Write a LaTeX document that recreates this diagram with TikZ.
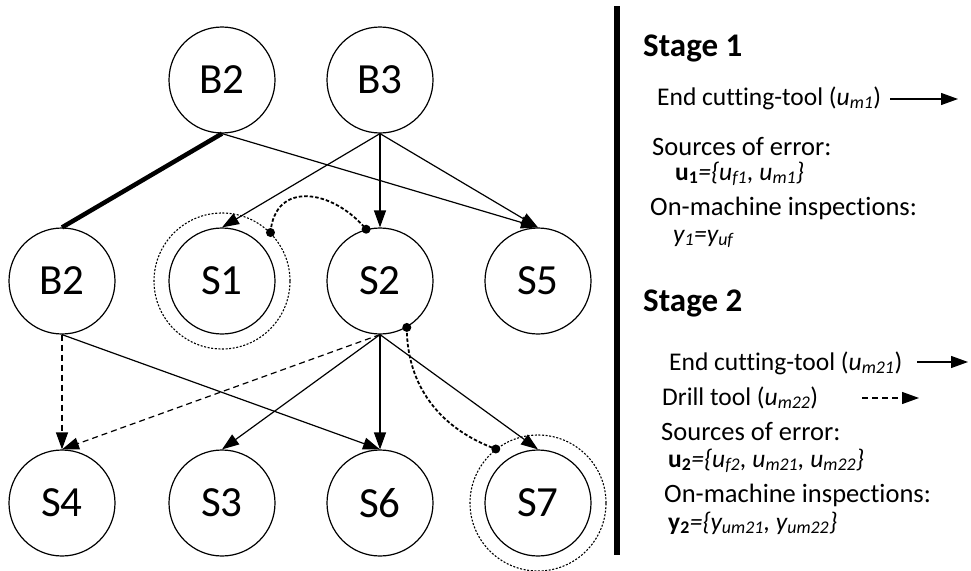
\documentclass[tikz,border=0pt]{standalone}
\usepackage{fontspec}
\setmainfont{Carlito}[Ligatures=CommonOff]
\usetikzlibrary{arrows.meta}

\newcommand\fs[1]{\fontsize{#1}{#1}\selectfont}

\tikzset{
  state/.style={circle, draw, line width=1.2pt, minimum size=106pt, inner sep=0pt, font=\fs{43}},
  ring/.style={circle, draw, line width=1.1pt, dash pattern=on 2pt off 1.6pt, minimum size=136pt, inner sep=0pt},
  tip/.style={-{Triangle[length=17pt,width=12pt]}},
  edge/.style={line width=1.2pt, tip},
  dedge/.style={line width=1.2pt, tip, dash pattern=on 6pt off 4pt},
  link/.style={line width=1.8pt, dash pattern=on 3.5pt off 2pt},
  dot/.style={circle, fill, inner sep=0pt, minimum size=9pt},
  txt/.style={anchor=base west, inner sep=0pt, font=\fs{25.5}},
  big/.style={anchor=base west, inner sep=0pt, font=\fs{26.5}},
  head/.style={anchor=base west, inner sep=0pt, font=\fs{33}\bfseries},
}

\begin{document}
\begin{tikzpicture}[x=1pt, y=-1pt]
\useasboundingbox (0,0) rectangle (971,570);

% states
\node[state] (B2t) at (222,80) {B2};
\node[state] (B3)  at (380,80) {B3};
\node[state] (B2)  at (62,281) {B2};
\node[state] (S1)  at (222,281) {S1};
\node[state] (S2)  at (380,281) {S2};
\node[state] (S5)  at (538,281) {S5};
\node[state] (S4)  at (62,503) {S4};
\node[state] (S3)  at (222,503) {S3};
\node[state] (S6)  at (380,503) {S6};
\node[state] (S7)  at (538,503) {S7};

% inspected states
\node[ring] (S1r) at (S1) {};
\node[ring] (S7r) at (S7) {};

% stage 1 edges
\draw[line width=4.5pt] (B2t.south) -- (B2.north);
\draw[edge] (B2t.south) -- (S5.north);
\draw[edge] (B3.south) -- (S1.north);
\draw[edge] (B3.south) -- (S2.north);
\draw[edge] (B3.south) -- (S5.north);

% stage 2 edges
\draw[dedge] (B2.south) -- (S4.north);
\draw[edge] (B2.south) -- (S6.north);
\draw[dedge] (S2.south) -- (S4.north);
\draw[edge] (S2.south) -- (S3.north);
\draw[edge] (S2.south) -- (S6.north);
\draw[edge] (S2.south) -- (S7.north);

% measurement links
\node[dot] (d1) at (S1r.45) {};
\node[dot] (d2) at (S2.105) {};
\draw[link] (d1.center) to[out=85, in=130, looseness=1.4] (d2.center);
\node[dot] (d3) at (S2.-60) {};
\node[dot] (d4) at (S7r.128) {};
\draw[link] (d3.center) to[out=-90, in=160] (d4.center);

% separator
\draw[line width=5.5pt] (617,6) -- (617,555);

% stage 1 legend
\node[head] (h1) at (643,56) {Stage 1};
\node[txt] (l1) at (657,105) {End cutting-tool (\textit{u}\textsubscript{\textit{m1}})};
\coordinate (a1s) at (890,99);
\coordinate (a1e) at (958,99);
\draw[edge] (a1s) -- (a1e);
\node[big] (s1) at (652,155) {Sources of error:};
\node[txt] (u1) at (675,180) {\textbf{u\textsubscript{1}}\textit{=\{u\textsubscript{f1}, u\textsubscript{m1}\}}};
\node[big] (o1) at (650,215) {On-machine inspections:};
\node[txt] (y1) at (673,242) {\textit{y\textsubscript{1}=y\textsubscript{uf}}};

% stage 2 legend
\node[head] (h2) at (643,311) {Stage 2};
\node[txt] (l2) at (669,370) {End cutting-tool (\textit{u}\textsubscript{\textit{m21}})};
\coordinate (a2s) at (917,362);
\coordinate (a2e) at (968,362);
\draw[edge] (a2s) -- (a2e);
\node[txt] (l3) at (662,405) {Drill tool (\textit{u}\textsubscript{\textit{m22}})};
\coordinate (a3s) at (862,398);
\coordinate (a3e) at (919,398);
\draw[dedge] (a3s) -- (a3e);
\node[big] (s2) at (661,440) {Sources of error:};
\node[txt] (u2) at (668,467) {\textbf{u\textsubscript{2}}\textit{=\{u\textsubscript{f2}, u\textsubscript{m21}, u\textsubscript{m22}\}}};
\node[big] (o2) at (664,502) {On-machine inspections:};
\node[txt] (y2) at (668,530) {\textbf{y\textsubscript{2}}\textit{=\{y\textsubscript{um21}, y\textsubscript{um22}\}}};
\end{tikzpicture}
\end{document}
